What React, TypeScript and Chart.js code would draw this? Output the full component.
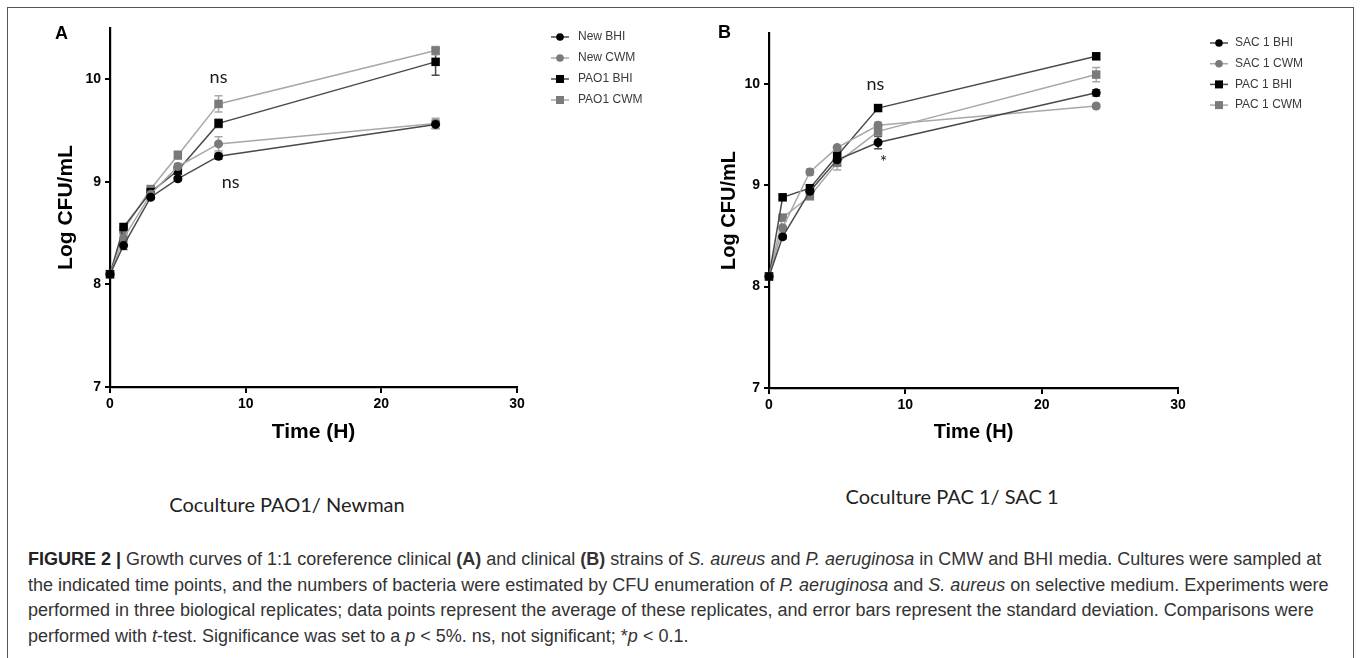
import React, { useEffect, useLayoutEffect, useRef } from "react";
import { Chart, registerables } from "chart.js";

Chart.register(...registerables);

// ---------------- data ----------------
const timeHours = [0, 1, 3, 5, 8, 24];
const xTicks = [0, 10, 20, 30];
const yTicks = [7, 8, 9, 10];

// Panel A: Coculture PAO1 / Newman
const labelsA = ["New BHI", "New CWM", "PAO1 BHI", "PAO1 CWM"];
const newBHI = [8.1, 8.38, 8.85, 9.03, 9.25, 9.56];
const newBHIErr = [0, 0.04, 0.02, 0.02, 0.03, 0.04];
const newCWM = [8.1, 8.45, 8.88, 9.15, 9.37, 9.57];
const newCWMErr = [0, 0.03, 0.02, 0.03, 0.07, 0.05];
const pao1BHI = [8.1, 8.56, 8.9, 9.11, 9.57, 10.17];
const pao1BHIErr = [0, 0.03, 0.02, 0.03, 0.04, 0.13];
const pao1CWM = [8.1, 8.53, 8.93, 9.26, 9.76, 10.28];
const pao1CWMErr = [0, 0.03, 0.03, 0.04, 0.08, 0.04];
const notesA = [
  { x: 8, y: 10.02, text: "ns" },
  { x: 8.9, y: 9.0, text: "ns" },
];

// Panel B: Coculture PAC 1 / SAC 1
const labelsB = ["SAC 1 BHI", "SAC 1 CWM", "PAC 1 BHI", "PAC 1 CWM"];
const sac1BHI = [8.1, 8.49, 8.94, 9.25, 9.42, 9.91];
const sac1BHIErr = [0, 0.02, 0.02, 0.06, 0.06, 0.03];
const sac1CWM = [8.1, 8.58, 9.13, 9.37, 9.59, 9.78];
const sac1CWMErr = [0, 0.02, 0.03, 0.02, 0.03, 0.02];
const pac1BHI = [8.1, 8.88, 8.97, 9.29, 9.76, 10.27];
const pac1BHIErr = [0, 0.02, 0.03, 0.05, 0.03, 0.03];
const pac1CWM = [8.1, 8.68, 8.89, 9.22, 9.53, 10.09];
const pac1CWMErr = [0, 0.02, 0.03, 0.07, 0.04, 0.07];
const notesB = [
  { x: 7.8, y: 10.0, text: "ns" },
  { x: 8.4, y: 9.23, text: "*" },
];

// ---------------- styles ----------------
const DARK_LINE = "#4a4a4a";
const LIGHT_LINE = "#a8a8a8";
const BLACK_MARK = "#000000";
const GREY_MARK = "#7a7a7a";
const SANS = "'Liberation Sans', Arial, Helvetica, sans-serif";
const NOTE_FONT = "18px Lato, 'Open Sans', sans-serif";

type Series = {
  label: string;
  values: number[];
  errors: number[];
  line: string;
  marker: string;
  shape: "circle" | "rect";
};

const seriesA: Series[] = [
  { label: labelsA[0], values: newBHI, errors: newBHIErr, line: DARK_LINE, marker: BLACK_MARK, shape: "circle" },
  { label: labelsA[1], values: newCWM, errors: newCWMErr, line: LIGHT_LINE, marker: GREY_MARK, shape: "circle" },
  { label: labelsA[2], values: pao1BHI, errors: pao1BHIErr, line: DARK_LINE, marker: BLACK_MARK, shape: "rect" },
  { label: labelsA[3], values: pao1CWM, errors: pao1CWMErr, line: LIGHT_LINE, marker: GREY_MARK, shape: "rect" },
];
const seriesB: Series[] = [
  { label: labelsB[0], values: sac1BHI, errors: sac1BHIErr, line: DARK_LINE, marker: BLACK_MARK, shape: "circle" },
  { label: labelsB[1], values: sac1CWM, errors: sac1CWMErr, line: LIGHT_LINE, marker: GREY_MARK, shape: "circle" },
  { label: labelsB[2], values: pac1BHI, errors: pac1BHIErr, line: DARK_LINE, marker: BLACK_MARK, shape: "rect" },
  { label: labelsB[3], values: pac1CWM, errors: pac1CWMErr, line: LIGHT_LINE, marker: GREY_MARK, shape: "rect" },
];

type Layout = {
  left: number;
  width: number;
  height: number;
  padLeft: number;
  padTop: number;
  padRight: number;
  padBottom: number;
  yAxisWidth: number;
  xAxisHeight: number;
  titleSizeY: number;
  titleSizeX: number;
  legendX: number;
  legendTextX: number;
  legendY: number;
  legendStep: number;
};

const layoutA: Layout = {
  left: 0, width: 680, height: 470,
  padLeft: 50, padTop: 28, padRight: 163, padBottom: 21,
  yAxisWidth: 60, xAxisHeight: 62,
  titleSizeY: 21, titleSizeX: 21,
  legendX: 551, legendTextX: 578, legendY: 37, legendStep: 21,
};
const layoutB: Layout = {
  left: 680, width: 680, height: 470,
  padLeft: 33, padTop: 33, padRight: 182, padBottom: 22,
  yAxisWidth: 56, xAxisHeight: 60,
  titleSizeY: 20, titleSizeX: 20,
  legendX: 530, legendTextX: 555, legendY: 43, legendStep: 20.7,
};

// ---------------- plugins ----------------
const errorBarPlugin = {
  id: "errorBars",
  beforeDatasetsDraw(chart: any) {
    const { ctx } = chart;
    const xs = chart.scales.x;
    const ys = chart.scales.y;
    chart.data.datasets.forEach((ds: any) => {
      if (!ds.errors) return;
      ctx.save();
      ctx.strokeStyle = ds.borderColor;
      ctx.lineWidth = 1.5;
      ds.data.forEach((pt: any, j: number) => {
        const e = ds.errors[j];
        if (!e) return;
        const px = xs.getPixelForValue(pt.x);
        const top = ys.getPixelForValue(pt.y + e);
        const bot = ys.getPixelForValue(pt.y - e);
        ctx.beginPath();
        ctx.moveTo(px, top);
        ctx.lineTo(px, bot);
        ctx.moveTo(px - 4, top);
        ctx.lineTo(px + 4, top);
        ctx.moveTo(px - 4, bot);
        ctx.lineTo(px + 4, bot);
        ctx.stroke();
      });
      ctx.restore();
    });
  },
};

function makeNotesPlugin(notes: { x: number; y: number; text: string }[]) {
  return {
    id: "textNotes",
    afterDatasetsDraw(chart: any) {
      const { ctx } = chart;
      const xs = chart.scales.x;
      const ys = chart.scales.y;
      ctx.save();
      ctx.font = NOTE_FONT;
      ctx.fillStyle = "#1a1a1a";
      ctx.textAlign = "center";
      ctx.textBaseline = "middle";
      notes.forEach((n) => {
        ctx.fillText(n.text, xs.getPixelForValue(n.x), ys.getPixelForValue(n.y));
      });
      ctx.restore();
    },
  };
}

function makeLegendPlugin(l: Layout) {
  return {
    id: "sideLegend",
    afterDraw(chart: any) {
      const { ctx } = chart;
      chart.data.datasets.forEach((ds: any, i: number) => {
        const y = l.legendY + i * l.legendStep;
        const x0 = l.legendX;
        const x1 = l.legendX + 18;
        const cx = (x0 + x1) / 2;
        ctx.save();
        ctx.strokeStyle = ds.borderColor;
        ctx.lineWidth = 1.5;
        ctx.beginPath();
        ctx.moveTo(x0, y);
        ctx.lineTo(x1, y);
        ctx.stroke();
        ctx.fillStyle = ds.pointBackgroundColor;
        if (ds.pointStyle === "rect") {
          ctx.fillRect(cx - 4, y - 4, 8, 8);
        } else {
          ctx.beginPath();
          ctx.arc(cx, y, 3.8, 0, Math.PI * 2);
          ctx.fill();
        }
        ctx.fillStyle = "#3a3a3a";
        ctx.font = `12px ${SANS}`;
        ctx.textAlign = "left";
        ctx.textBaseline = "middle";
        ctx.fillText(ds.label, l.legendTextX, y);
        ctx.restore();
      });
    },
  };
}

function buildConfig(series: Series[], notes: any[], l: Layout): any {
  const tickFont = { family: SANS, size: 14, weight: "bold" as const };
  return {
    type: "line",
    data: {
      datasets: series.map((s) => ({
        label: s.label,
        data: timeHours.map((t, i) => ({ x: t, y: s.values[i] })),
        errors: s.errors,
        borderColor: s.line,
        backgroundColor: s.marker,
        pointBackgroundColor: s.marker,
        pointBorderColor: s.marker,
        pointBorderWidth: 0,
        pointStyle: s.shape,
        pointRadius: s.shape === "rect" ? 6 : 4.5,
        borderWidth: 1.5,
        tension: 0,
        clip: false,
      })),
    },
    options: {
      responsive: false,
      animation: false,
      events: [],
      layout: {
        padding: { left: l.padLeft, top: l.padTop, right: l.padRight, bottom: l.padBottom },
      },
      plugins: {
        legend: { display: false },
        tooltip: { enabled: false },
      },
      scales: {
        x: {
          type: "linear",
          min: 0,
          max: 30,
          afterBuildTicks: (s: any) => {
            s.ticks = xTicks.map((v) => ({ value: v }));
          },
          afterFit: (s: any) => {
            s.height = l.xAxisHeight;
          },
          ticks: { color: "#000", font: tickFont, padding: 3, maxRotation: 0, autoSkip: false },
          grid: { drawOnChartArea: false, drawTicks: true, tickLength: 6, color: "#000", lineWidth: 2 },
          border: { color: "#000", width: 2.2 },
          title: {
            display: true,
            text: "Time (H)",
            color: "#000",
            font: { family: SANS, size: l.titleSizeX, weight: "bold" },
            padding: 4,
          },
        },
        y: {
          type: "linear",
          min: 7,
          max: 10.5,
          afterBuildTicks: (s: any) => {
            s.ticks = yTicks.map((v) => ({ value: v }));
          },
          afterFit: (s: any) => {
            s.width = l.yAxisWidth;
          },
          ticks: { color: "#000", font: tickFont, padding: 4, autoSkip: false },
          grid: { drawOnChartArea: false, drawTicks: true, tickLength: 5, color: "#000", lineWidth: 2 },
          border: { color: "#000", width: 2.2 },
          title: {
            display: true,
            text: "Log CFU/mL",
            color: "#000",
            font: { family: SANS, size: l.titleSizeY, weight: "bold" },
            padding: 4,
          },
        },
      },
    },
    plugins: [errorBarPlugin, makeNotesPlugin(notes), makeLegendPlugin(l)],
  };
}

function Panel({ series, notes, layout }: { series: Series[]; notes: any[]; layout: Layout }) {
  const ref = useRef<HTMLCanvasElement | null>(null);
  useEffect(() => {
    if (!ref.current) return;
    const chart = new Chart(ref.current, buildConfig(series, notes, layout));
    return () => chart.destroy();
  }, []);
  return (
    <canvas
      ref={ref}
      width={layout.width}
      height={layout.height}
      style={{ position: "absolute", left: layout.left, top: 0, width: layout.width, height: layout.height }}
    />
  );
}

export default function App() {
  useLayoutEffect(() => {
    document.body.style.margin = "0";
    document.body.style.background = "#fff";
  }, []);

  const captionLine: React.CSSProperties = {
    position: "absolute",
    left: 28,
    whiteSpace: "nowrap",
    fontFamily: SANS,
    fontSize: 18,
    lineHeight: "25.5px",
    color: "#333",
  };

  return (
    <div style={{ position: "relative", width: 1360, height: 658, overflow: "hidden", background: "#fff" }}>
      <div
        style={{
          position: "absolute",
          left: 7,
          top: 7,
          width: 1347,
          height: 700,
          border: "1.5px solid #555",
          boxSizing: "border-box",
        }}
      />
      <Panel series={seriesA} notes={notesA} layout={layoutA} />
      <Panel series={seriesB} notes={notesB} layout={layoutB} />

      <div style={{ position: "absolute", left: 55, top: 23, fontFamily: SANS, fontWeight: "bold", fontSize: 18, color: "#000" }}>
        A
      </div>
      <div style={{ position: "absolute", left: 718, top: 22, fontFamily: SANS, fontWeight: "bold", fontSize: 18, color: "#000" }}>
        B
      </div>

      <div
        style={{
          position: "absolute",
          left: 287,
          top: 504,
          transform: "translate(-50%, -50%)",
          whiteSpace: "nowrap",
          fontFamily: "Lato, 'Open Sans', sans-serif",
          fontSize: 20,
          color: "#222",
        }}
      >
        Coculture PAO1/ Newman
      </div>
      <div
        style={{
          position: "absolute",
          left: 952,
          top: 496,
          transform: "translate(-50%, -50%)",
          whiteSpace: "nowrap",
          fontFamily: "Lato, 'Open Sans', sans-serif",
          fontSize: 20,
          color: "#222",
        }}
      >
        Coculture PAC 1/ SAC 1
      </div>

      <div style={{ ...captionLine, top: 547 }}>
        <b style={{ color: "#222" }}>FIGURE 2 |</b> Growth curves of 1:1 coreference clinical <b>(A)</b> and clinical{" "}
        <b>(B)</b> strains of <i>S. aureus</i> and <i>P. aeruginosa</i> in CMW and BHI media. Cultures were sampled at
      </div>
      <div style={{ ...captionLine, top: 572.5 }}>
        the indicated time points, and the numbers of bacteria were estimated by CFU enumeration of{" "}
        <i>P. aeruginosa</i> and <i>S. aureus</i> on selective medium. Experiments were
      </div>
      <div style={{ ...captionLine, top: 598 }}>
        performed in three biological replicates; data points represent the average of these replicates, and error
        bars represent the standard deviation. Comparisons were
      </div>
      <div style={{ ...captionLine, top: 623.5 }}>
        performed with <i>t</i>-test. Significance was set to a <i>p</i> &lt; 5%. ns, not significant; *<i>p</i>{" "}
        &lt; 0.1.
      </div>
    </div>
  );
}
